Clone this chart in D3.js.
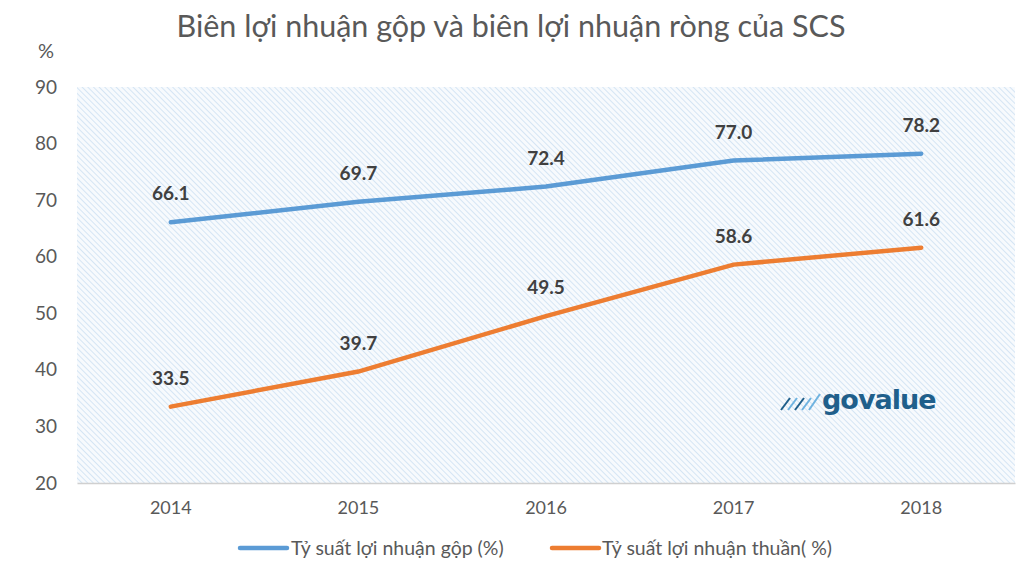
<!DOCTYPE html>
<html><head><meta charset="utf-8">
<script src="https://cdn.jsdelivr.net/npm/d3@7"></script>
<style>body{margin:0;background:#fff;} svg{display:block;}</style>
</head><body>
<script>
const years = ["2014","2015","2016","2017","2018"];
const grossMargin = [66.1, 69.7, 72.4, 77.0, 78.2];
const netMargin = [33.5, 39.7, 49.5, 58.6, 61.6];
const yTicks = [20,30,40,50,60,70,80,90];
const seriesNames = ["Tỷ suất lợi nhuận gộp (%)", "Tỷ suất lợi nhuận thuần( %)"];
const colors = ["#5b9bd5", "#ed7d31"];

const W=1024,H=570;
const m={l:77,r:9,t:87,b:87};
const svg=d3.select("body").append("svg").attr("width",W).attr("height",H);
const font="Lato, 'Open Sans', sans-serif";

const defs=svg.append("defs");
const pat=defs.append("pattern").attr("id","hatch").attr("patternUnits","userSpaceOnUse")
  .attr("width",4).attr("height",4).attr("patternTransform","rotate(-45)");
pat.append("rect").attr("width",4).attr("height",4).attr("fill","#f7fafd");
pat.append("line").attr("x1",0).attr("y1",0).attr("x2",0).attr("y2",4).attr("stroke","#d2e3f3").attr("stroke-width",1.8);

const x=d3.scaleBand().domain(years).range([m.l,W-m.r]);
const y=d3.scaleLinear().domain([20,90]).range([H-m.b,m.t]);

svg.append("rect").attr("x",m.l).attr("y",m.t).attr("width",W-m.r-m.l).attr("height",y(20)-m.t).attr("fill","url(#hatch)");

svg.append("text").attr("x",511).attr("y",37).attr("text-anchor","middle")
  .attr("font-family",font).attr("font-size",30.5).attr("fill","#595959")
  .text("Biên lợi nhuận gộp và biên lợi nhuận ròng của SCS");

svg.append("text").attr("x",46).attr("y",58).attr("text-anchor","middle")
  .attr("font-family",font).attr("font-size",20).attr("fill","#595959").text("%");

const ya=svg.append("g").attr("transform",`translate(${m.l},0)`)
  .call(d3.axisLeft(y).tickValues(yTicks).tickSize(0).tickPadding(20));
ya.select(".domain").remove();
ya.selectAll("text").attr("font-family",font).attr("font-size",19).attr("fill","#595959");

const xa=svg.append("g").attr("transform",`translate(0,${y(20)})`)
  .call(d3.axisBottom(x).tickSize(0).tickPadding(18));
xa.select(".domain").attr("stroke","#d0d0d0").attr("stroke-width",1.5);
xa.selectAll("text").attr("font-family",font).attr("font-size",18).attr("fill","#595959");

const cx=d=>x(d)+x.bandwidth()/2;
[grossMargin,netMargin].forEach((vals,i)=>{
  const line=d3.line().x((d,j)=>cx(years[j])).y(d=>y(d));
  svg.append("path").datum(vals).attr("d",line).attr("fill","none")
    .attr("stroke",colors[i]).attr("stroke-width",4.5).attr("stroke-linecap","round");
  svg.selectAll(null).data(vals).enter().append("text")
    .attr("x",(d,j)=>cx(years[j])).attr("y",d=>y(d)-22)
    .attr("text-anchor","middle").attr("font-family",font).attr("font-weight","bold")
    .attr("font-size",19).attr("fill","#404040").text(d=>d.toFixed(1));
});

// legend
const lg=[{x:240,tx:291},{x:552,tx:602}];
seriesNames.forEach((n,i)=>{
  svg.append("line").attr("x1",lg[i].x).attr("x2",lg[i].x+47).attr("y1",548).attr("y2",548)
    .attr("stroke",colors[i]).attr("stroke-width",4.5).attr("stroke-linecap","round");
  svg.append("text").attr("x",lg[i].tx).attr("y",555).attr("font-family",font)
    .attr("font-size",19.5).attr("fill","#595959").text(n);
});

// watermark logo
const logo=svg.append("g");
[[781,410,790,398,"#1f5f8b"],[788,410,797,398,"#6fb3e0"],[795,410,804,398,"#1f5f8b"],[802,410,811,398,"#6fb3e0"],[809,410,820,394,"#6fb3e0"]].forEach(a=>{
  logo.append("line").attr("x1",a[0]).attr("y1",a[1]).attr("x2",a[2]).attr("y2",a[3]).attr("stroke",a[4]).attr("stroke-width",2);
});
logo.append("text").attr("x",822).attr("y",409).attr("font-family","'DejaVu Sans', sans-serif")
  .attr("font-size",27).attr("font-weight","bold").attr("fill","#1f5f8b").attr("letter-spacing",-1).text("govalue");
</script>
</body></html>
